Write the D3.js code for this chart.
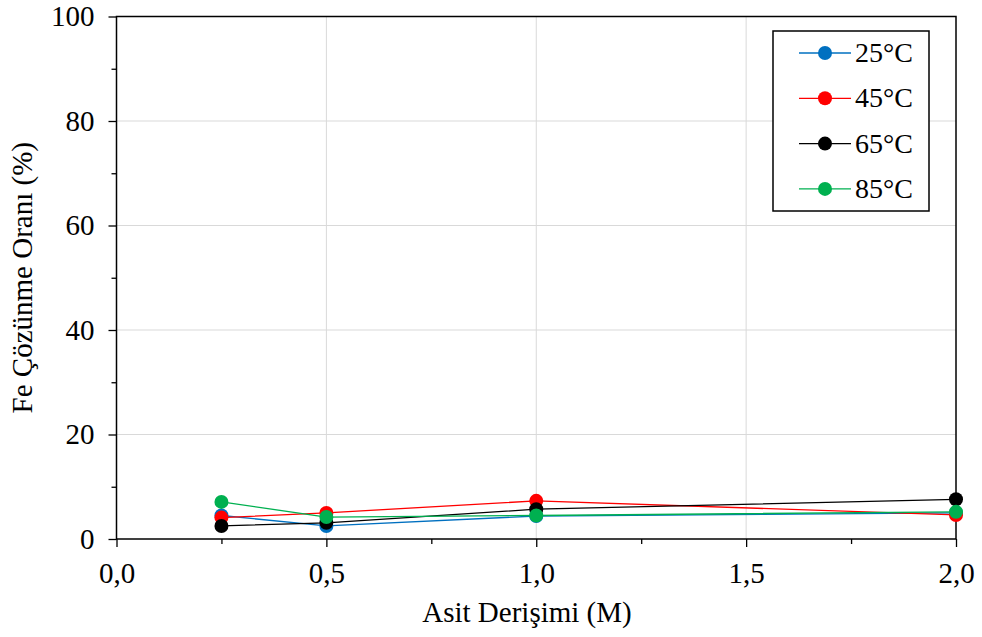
<!DOCTYPE html>
<html><head><meta charset="utf-8">
<script src="https://cdn.jsdelivr.net/npm/d3@7"></script>
<style>body{margin:0;background:#fff}svg{display:block}text{font-family:"Liberation Serif","Times New Roman",serif;fill:#000}</style>
</head><body><svg id="c" width="982" height="637"></svg>
<script>
const concentrations = [0.25, 0.5, 1.0, 2.0];
const seriesNames = ["25°C", "45°C", "65°C", "85°C"];
const seriesColors = ["#0070C0", "#FF0000", "#000000", "#00B050"];
const t25 = [4.5, 2.5, 4.4, 5.0];
const t45 = [4.1, 5.0, 7.3, 4.6];
const t65 = [2.5, 3.1, 5.7, 7.6];
const t85 = [7.1, 4.2, 4.5, 5.2];
const xTicks = [0, 0.5, 1.0, 1.5, 2.0];
const xMinor = [0.25, 0.75, 1.25, 1.75];
const yTicks = [0, 20, 40, 60, 80, 100];
const yMinor = [10, 30, 50, 70, 90];
const xTitle = "Asit Derişimi (M)";
const yTitle = "Fe Çözünme Oranı (%)";

const svg = d3.select("#c");
const L = 116.5, R = 956, T = 16.5, B = 539;
const FS = "29px";
const x = d3.scaleLinear().domain([0, 2]).range([L, R]);
const y = d3.scaleLinear().domain([0, 100]).range([B, T]);
const fmt = d => d.toFixed(1).replace(".", ",");

// gridlines
const g = svg.append("g");
g.selectAll(".gx").data(xTicks.slice(1, -1)).enter().append("line")
  .attr("x1", d => x(d)).attr("x2", d => x(d)).attr("y1", T).attr("y2", B)
  .attr("stroke", "#d9d9d9").attr("stroke-width", 1);
g.selectAll(".gy").data(yTicks.slice(1, -1)).enter().append("line")
  .attr("y1", d => y(d)).attr("y2", d => y(d)).attr("x1", L).attr("x2", R)
  .attr("stroke", "#d9d9d9").attr("stroke-width", 1);

// frame
svg.append("rect").attr("x", L).attr("y", T).attr("width", R - L).attr("height", B - T)
  .attr("fill", "none").attr("stroke", "#000").attr("stroke-width", 1.5);

// x axis
const xAxis = d3.axisBottom(x).tickValues(xTicks).tickFormat(fmt).tickSize(8).tickPadding(15);
const xa = svg.append("g").attr("transform", `translate(0,${B})`).call(xAxis);
xa.select(".domain").remove();
xa.selectAll("line").attr("stroke", "#000").attr("stroke-width", 1.3);
xa.selectAll("text").style("font-size", FS).style("font-family", "Liberation Serif");
const xm = svg.append("g").attr("transform", `translate(0,${B})`)
  .call(d3.axisBottom(x).tickValues(xMinor).tickFormat("").tickSize(5));
xm.select(".domain").remove();
xm.selectAll("line").attr("stroke", "#000").attr("stroke-width", 1.3);

// y axis
const yAxis = d3.axisLeft(y).tickValues(yTicks).tickSize(8).tickPadding(14);
const ya = svg.append("g").attr("transform", `translate(${L},0)`).call(yAxis);
ya.select(".domain").remove();
ya.selectAll("line").attr("stroke", "#000").attr("stroke-width", 1.3);
ya.selectAll("text").style("font-size", FS).style("font-family", "Liberation Serif");
const ym = svg.append("g").attr("transform", `translate(${L},0)`)
  .call(d3.axisLeft(y).tickValues(yMinor).tickFormat("").tickSize(5));
ym.select(".domain").remove();
ym.selectAll("line").attr("stroke", "#000").attr("stroke-width", 1.3);

// titles
svg.append("text").attr("x", 527).attr("y", 622).attr("text-anchor", "middle")
  .style("font-size", FS).text(xTitle);
svg.append("text").attr("transform", `translate(32,${(T + B) / 2}) rotate(-90)`)
  .attr("text-anchor", "middle").style("font-size", FS).text(yTitle);

// series
const allSeries = [t25, t45, t65, t85];
const line = d3.line().x((d, i) => x(concentrations[i])).y(d => y(d));
allSeries.forEach((vals, k) => {
  const sg = svg.append("g");
  sg.append("path").datum(vals).attr("d", line).attr("fill", "none")
    .attr("stroke", seriesColors[k]).attr("stroke-width", 1.3);
  sg.selectAll("circle").data(vals).enter().append("circle")
    .attr("cx", (d, i) => x(concentrations[i])).attr("cy", d => y(d)).attr("r", 7)
    .attr("fill", seriesColors[k]);
});

// legend
const lg = svg.append("g");
lg.append("rect").attr("x", 773).attr("y", 31).attr("width", 156).attr("height", 180)
  .attr("fill", "#fff").attr("stroke", "#000").attr("stroke-width", 1.5);
seriesNames.forEach((n, k) => {
  const yy = 53 + k * 45.3;
  lg.append("line").attr("x1", 799).attr("x2", 851).attr("y1", yy).attr("y2", yy)
    .attr("stroke", seriesColors[k]).attr("stroke-width", 1.3);
  lg.append("circle").attr("cx", 825).attr("cy", yy).attr("r", 7).attr("fill", seriesColors[k]);
  lg.append("text").attr("x", 855).attr("y", yy + 9).style("font-size", "28px").text(n);
});
</script></body></html>
